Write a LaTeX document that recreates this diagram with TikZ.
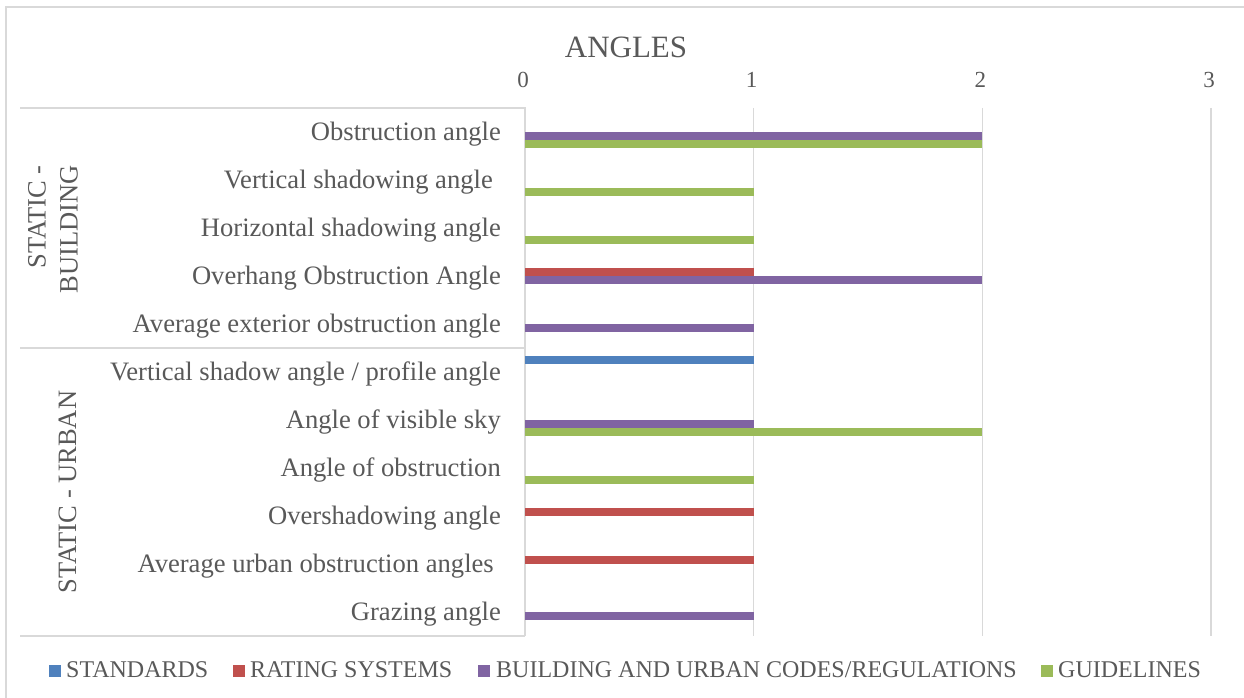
\documentclass[tikz,border=0pt]{standalone}
\usepackage{fontspec}
\setmainfont{Liberation Serif}
\definecolor{txt}{HTML}{595959}
\definecolor{grid}{HTML}{D9D9D9}
\definecolor{ser1}{HTML}{4F81BD}
\definecolor{ser2}{HTML}{C0504D}
\definecolor{ser3}{HTML}{8064A2}
\definecolor{ser4}{HTML}{9BBB59}
\tikzset{
  gridline/.style={draw=grid, line width=1.6pt},
  catlabel/.style={anchor=base east, inner sep=0pt, text=txt, font=\fontsize{26.6}{31}\selectfont},
  ticklabel/.style={anchor=base, inner sep=0pt, text=txt, font=\fontsize{23}{28}\selectfont},
  grouplabel/.style={rotate=90, inner sep=0pt, text=txt, font=\fontsize{26.5}{32}\selectfont},
  legendtext/.style={anchor=base west, inner sep=0pt, text=txt, font=\fontsize{24}{28}\selectfont},
  legendkey/.style={minimum size=12pt, inner sep=0pt, anchor=north west},
  barfill/.style={draw=none}
}
\begin{document}
\begin{tikzpicture}[x=1pt, y=-1pt]
\useasboundingbox (0,0) rectangle (1244,698);
\fill[white] (0,0) rectangle (1244,698);
% chart frame (runs past the page on the right and bottom)
\begin{scope}
  \clip (0,0) rectangle (1244,698);
  \draw[draw=grid, line width=1.2pt] (6,7) rectangle (1270,720);
\end{scope}

% title
\node[anchor=base, inner sep=0pt, text=txt, font=\fontsize{31}{36}\selectfont] (title) at (626,58) {ANGLES};

% value gridlines and tick labels
\foreach \v in {1,2,3}{
  \draw[gridline] ({525+228.667*\v},108) -- ({525+228.667*\v},636);
}
\foreach \v in {0,1,2,3}{
  \node[ticklabel] (tick\v) at ({523+228.667*\v},88) {\v};
}

% category axis box
\draw[gridline] (20,108) -- (525,108) -- (525,636);
\draw[gridline] (20,348) -- (525,348);
\draw[gridline] (20,636) -- (525,636);

% bars: row / series / value
\foreach \r/\s/\v in {0/3/2, 0/4/2, 1/4/1, 2/4/1, 3/2/1, 3/3/2, 4/3/1,
                      5/1/1, 6/3/1, 6/4/2, 7/4/1, 8/2/1, 9/2/1, 10/3/1}{
  \fill[barfill, fill=ser\s] (525,{131.6+48*\r+8*(\s-3)}) rectangle ({525+228.667*\v},{139.6+48*\r+8*(\s-3)});
}

% category labels
\foreach \r/\t in {0/{Obstruction angle},
                   1/{Vertical shadowing angle\kern8pt},
                   2/{Horizontal shadowing angle},
                   3/{Overhang Obstruction Angle},
                   4/{Average exterior obstruction angle},
                   5/{Vertical shadow angle / profile angle},
                   6/{Angle of visible sky},
                   7/{Angle of obstruction},
                   8/{Overshadowing angle},
                   9/{Average urban obstruction angles\kern7pt},
                   10/{Grazing angle}}{
  \node[catlabel] (cat\r) at (501,{140+48*\r}) {\t};
}

% group labels
\node[grouplabel, align=right, anchor=north east] (grpbuilding) at (28,165) {STATIC -\\BUILDING};
\node[grouplabel, anchor=base] (grpurban) at (76,492) {STATIC - URBAN};

% legend
\node[legendkey, fill=ser1] (key1) at (49,665) {};
\node[legendtext] (leg1) at (66,677) {STANDARDS};
\node[legendkey, fill=ser2] (key2) at (233,665) {};
\node[legendtext] (leg2) at (250,677) {RATING SYSTEMS};
\node[legendkey, fill=ser3] (key3) at (478,665) {};
\node[legendtext] (leg3) at (496,677) {BUILDING AND URBAN CODES/REGULATIONS};
\node[legendkey, fill=ser4] (key4) at (1041,665) {};
\node[legendtext] (leg4) at (1058,677) {GUIDELINES};
\end{tikzpicture}
\end{document}
